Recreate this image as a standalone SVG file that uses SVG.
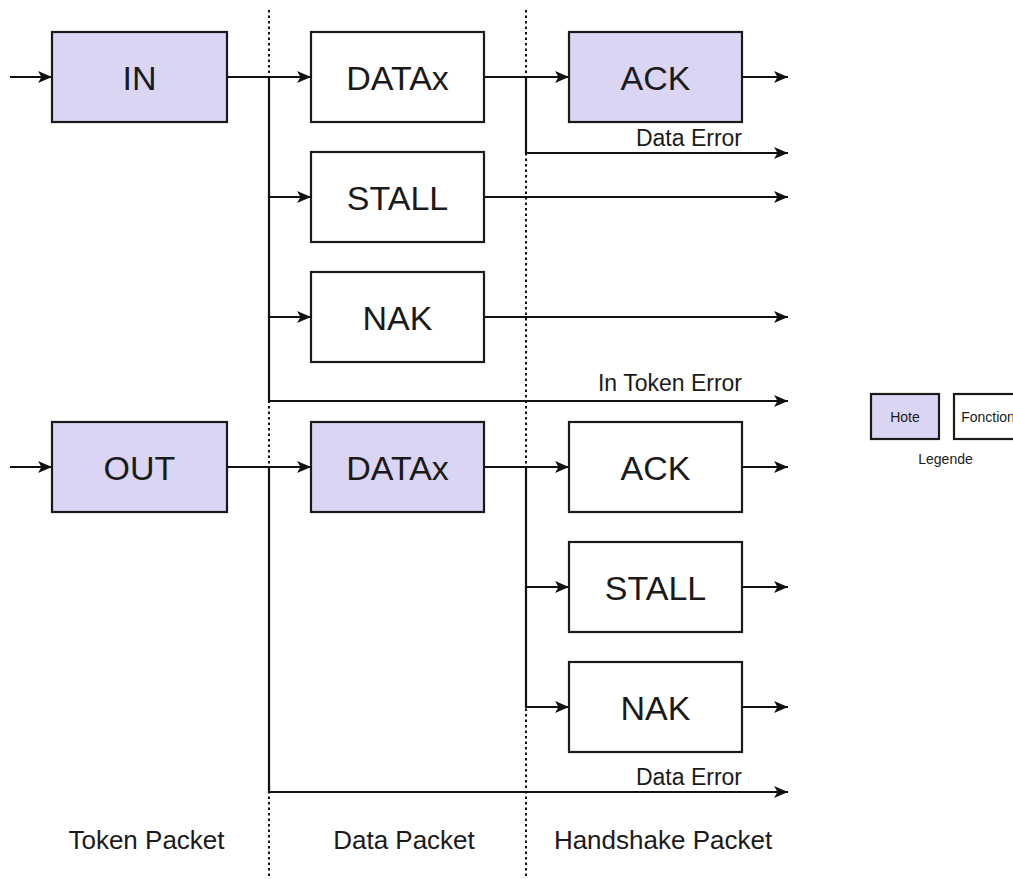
<svg xmlns="http://www.w3.org/2000/svg" width="1013" height="879" viewBox="0 0 1013 879">
<style>
.box{stroke:#1a1a1a;stroke-width:2.2;fill:#ffffff}
.host{fill:#dad5f2}
.lbl{font-family:"Liberation Sans",Arial,sans-serif;font-size:34px;fill:#1a1a1a;text-anchor:middle}
.err{font-family:"Liberation Sans",Arial,sans-serif;font-size:23px;fill:#1a1a1a;text-anchor:end}
.col{font-family:"Liberation Sans",Arial,sans-serif;font-size:26px;fill:#1a1a1a;text-anchor:middle}
.leg{font-family:"Liberation Sans",Arial,sans-serif;font-size:14px;fill:#1a1a1a;text-anchor:middle}
.sep{stroke:#111111;stroke-width:2;stroke-dasharray:2.5 3;fill:none}
.ln{stroke:#111111;stroke-width:2.2;fill:none}
.arr{marker-end:url(#ah)}
</style>
<defs>
<marker id="ah" markerUnits="userSpaceOnUse" markerWidth="15" markerHeight="13" refX="14" refY="6" orient="auto" viewBox="0 0 15 12">
<path d="M0,0 L14,6 L0,12 L3.5,6 Z" fill="#111111"/>
</marker>
</defs>
<rect width="1013" height="879" fill="#ffffff"/>
<g id="separators">
<line class="sep" x1="269" y1="10" x2="269" y2="877"/>
<line class="sep" x1="526" y1="10" x2="526" y2="877"/>
</g>
<g id="connectors">
<line class="ln arr" x1="10" y1="77" x2="52" y2="77"/>
<line class="ln arr" x1="227" y1="77" x2="311" y2="77"/>
<polyline class="ln arr" points="269,77 269,197 311,197"/>
<polyline class="ln arr" points="269,197 269,317 311,317"/>
<polyline class="ln arr" points="269,317 269,401 788,401"/>
<line class="ln arr" x1="484" y1="77" x2="569" y2="77"/>
<line class="ln arr" x1="742" y1="77" x2="788" y2="77"/>
<polyline class="ln arr" points="526,77 526,153 788,153"/>
<line class="ln arr" x1="484" y1="197" x2="788" y2="197"/>
<line class="ln arr" x1="484" y1="317" x2="788" y2="317"/>
<line class="ln arr" x1="10" y1="467" x2="52" y2="467"/>
<line class="ln arr" x1="227" y1="467" x2="311" y2="467"/>
<polyline class="ln arr" points="269,467 269,792 788,792"/>
<line class="ln arr" x1="484" y1="467" x2="569" y2="467"/>
<line class="ln arr" x1="742" y1="467" x2="788" y2="467"/>
<polyline class="ln arr" points="526,467 526,587 569,587"/>
<polyline class="ln arr" points="526,587 526,707 569,707"/>
<line class="ln arr" x1="742" y1="587" x2="788" y2="587"/>
<line class="ln arr" x1="742" y1="707" x2="788" y2="707"/>
<text class="err" x="742" y="146">Data Error</text>
<text class="err" x="742" y="391">In Token Error</text>
<text class="err" x="742" y="785">Data Error</text>
</g>
<g id="in"><rect class="box host" x="52" y="32" width="175" height="90"/><text class="lbl" x="139.5" y="89.5">IN</text></g>
<g id="datax1"><rect class="box" x="311" y="32" width="173" height="90"/><text class="lbl" x="397.5" y="89.5">DATAx</text></g>
<g id="ack1"><rect class="box host" x="569" y="32" width="173" height="90"/><text class="lbl" x="655.5" y="89.5">ACK</text></g>
<g id="stall1"><rect class="box" x="311" y="152" width="173" height="90"/><text class="lbl" x="397.5" y="209.5">STALL</text></g>
<g id="nak1"><rect class="box" x="311" y="272" width="173" height="90"/><text class="lbl" x="397.5" y="329.5">NAK</text></g>
<g id="out"><rect class="box host" x="52" y="422" width="175" height="90"/><text class="lbl" x="139.5" y="479.5">OUT</text></g>
<g id="datax2"><rect class="box host" x="311" y="422" width="173" height="90"/><text class="lbl" x="397.5" y="479.5">DATAx</text></g>
<g id="ack2"><rect class="box" x="569" y="422" width="173" height="90"/><text class="lbl" x="655.5" y="479.5">ACK</text></g>
<g id="stall2"><rect class="box" x="569" y="542" width="173" height="90"/><text class="lbl" x="655.5" y="599.5">STALL</text></g>
<g id="nak2"><rect class="box" x="569" y="662" width="173" height="90"/><text class="lbl" x="655.5" y="719.5">NAK</text></g>
<g id="columns">
<text class="col" x="146.5" y="849">Token Packet</text>
<text class="col" x="404" y="849">Data Packet</text>
<text class="col" x="663" y="849">Handshake Packet</text>
</g>
<g id="legend">
<rect class="box host" x="871" y="394" width="68" height="45"/>
<text class="leg" x="905" y="422">Hote</text>
<rect class="box" x="954" y="394" width="68" height="45"/>
<text class="leg" x="988" y="422">Fonction</text>
<text class="leg" x="945.5" y="464">Legende</text>
</g>
</svg>
